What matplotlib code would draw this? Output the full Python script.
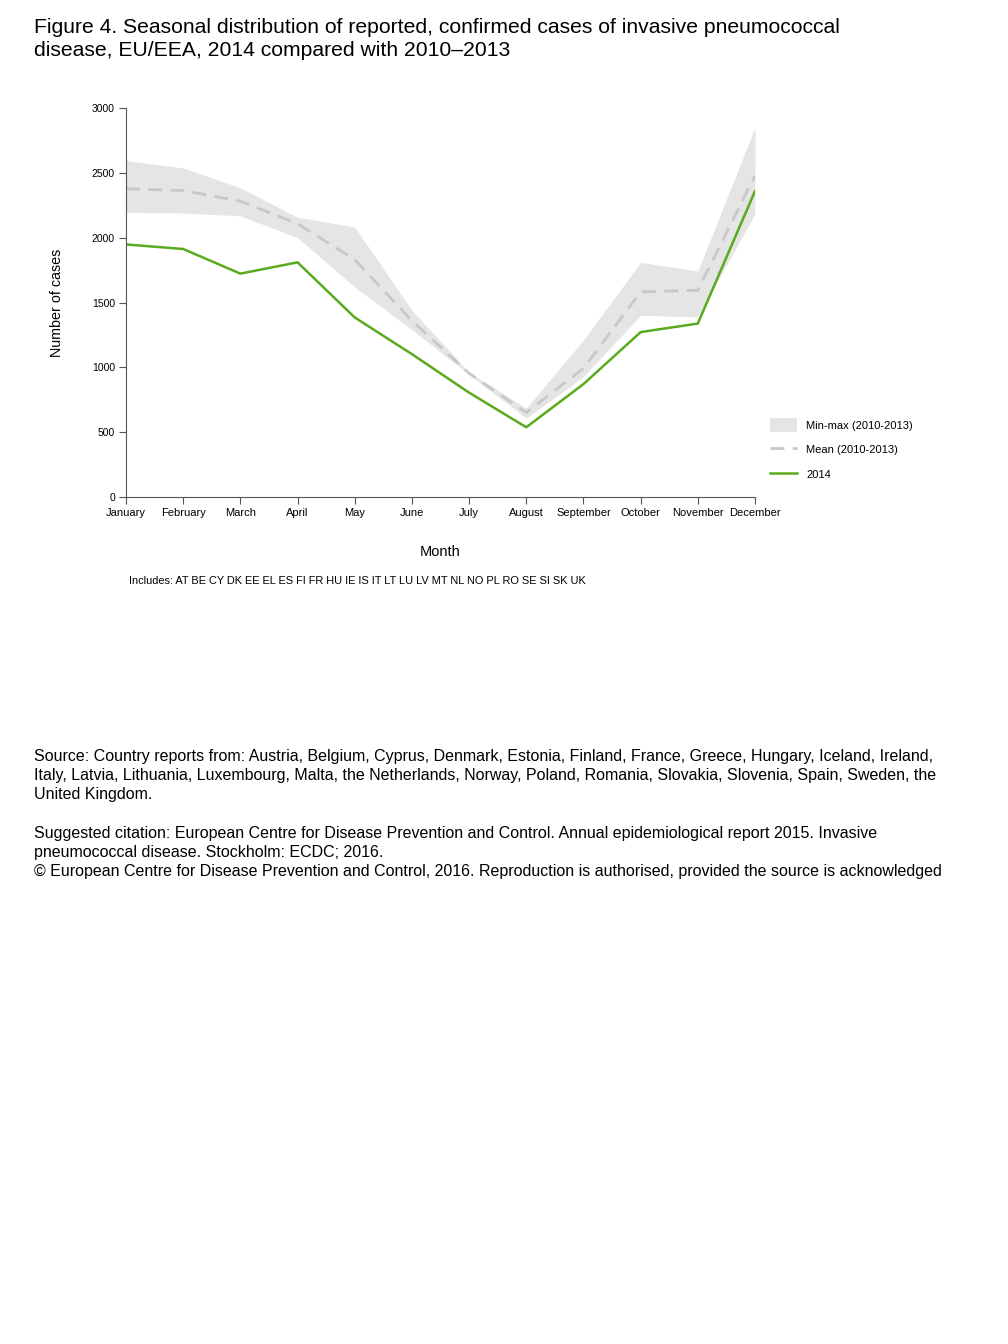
import matplotlib.pyplot as plt
import numpy as np

months = ['January', 'February', 'March', 'April', 'May', 'June', 'July',
          'August', 'September', 'October', 'November', 'December']
cases_2014 = [1948, 1913, 1723, 1810, 1385, 1102, 805, 538, 871, 1272, 1338, 2359]
mean_1013 = [2377, 2364, 2282, 2108, 1831, 1360, 954, 651, 992, 1582, 1595, 2479]
min_1013 = [2195, 2190, 2169, 2000, 1620, 1290, 945, 608, 928, 1402, 1389, 2185]
max_1013 = [2595, 2538, 2385, 2158, 2082, 1440, 962, 685, 1210, 1810, 1743, 2851]
yticks = [0, 500, 1000, 1500, 2000, 2500, 3000]

title = ("Figure 4. Seasonal distribution of reported, confirmed cases of invasive pneumococcal\n"
         "disease, EU/EEA, 2014 compared with 2010\u20132013")
source = ("Source: Country reports from: Austria, Belgium, Cyprus, Denmark, Estonia, Finland, France, Greece, Hungary, Iceland, Ireland,\n"
          "Italy, Latvia, Lithuania, Luxembourg, Malta, the Netherlands, Norway, Poland, Romania, Slovakia, Slovenia, Spain, Sweden, the\n"
          "United Kingdom.\n\n"
          "Suggested citation: European Centre for Disease Prevention and Control. Annual epidemiological report 2015. Invasive\n"
          "pneumococcal disease. Stockholm: ECDC; 2016.\n"
          "\u00a9 European Centre for Disease Prevention and Control, 2016. Reproduction is authorised, provided the source is acknowledged")
includes = "Includes: AT BE CY DK EE EL ES FI FR HU IE IS IT LT LU LV MT NL NO PL RO SE SI SK UK"

plt.rcParams['font.family'] = ['Liberation Sans', 'DejaVu Sans']

fig = plt.figure(figsize=(10.08, 13.44), dpi=100)
ax = fig.add_axes([0.125, 0.6302, 0.624, 0.2894])

x = np.arange(len(months))
ax.fill_between(x, min_1013, max_1013, color='#e5e5e5', linewidth=0, label='Min-max (2010-2013)')
ax.plot(x, mean_1013, color='#c8c8c8', linestyle=(0, (5, 3)), linewidth=2, label='Mean (2010-2013)')
ax.plot(x, cases_2014, color='#5aaa1e', linewidth=1.8, label='2014')

ax.set_xlim(0, 11)
ax.set_ylim(0, 3000)
ax.set_xticks(x)
ax.set_xticklabels(months, fontsize=8)
ax.set_yticks(yticks)
ax.set_yticklabels([str(v) for v in yticks], fontsize=7.5)
for s in ['top', 'right']:
    ax.spines[s].set_visible(False)
for s in ['left', 'bottom']:
    ax.spines[s].set_color('#555555')
ax.tick_params(direction='out', length=5, color='#555555', pad=3)
ax.set_xlabel('Month', fontsize=10.5, labelpad=19)
ax.set_ylabel('Number of cases', fontsize=10.3, labelpad=20)

ax.legend(loc='upper left', bbox_to_anchor=(1.016, 0.215), frameon=False, fontsize=8,
          handlelength=2.5, handleheight=1.6, labelspacing=0.95, borderaxespad=0)

fig.text(0.034, 0.9868, title, fontsize=15.2, va='top', linespacing=1.3)
fig.text(0.128, 0.568, includes, fontsize=7.9, va='center')
fig.text(0.034, 0.4425, source, fontsize=11.55, va='top', linespacing=1.34)

fig.savefig('out.png', dpi=100)
